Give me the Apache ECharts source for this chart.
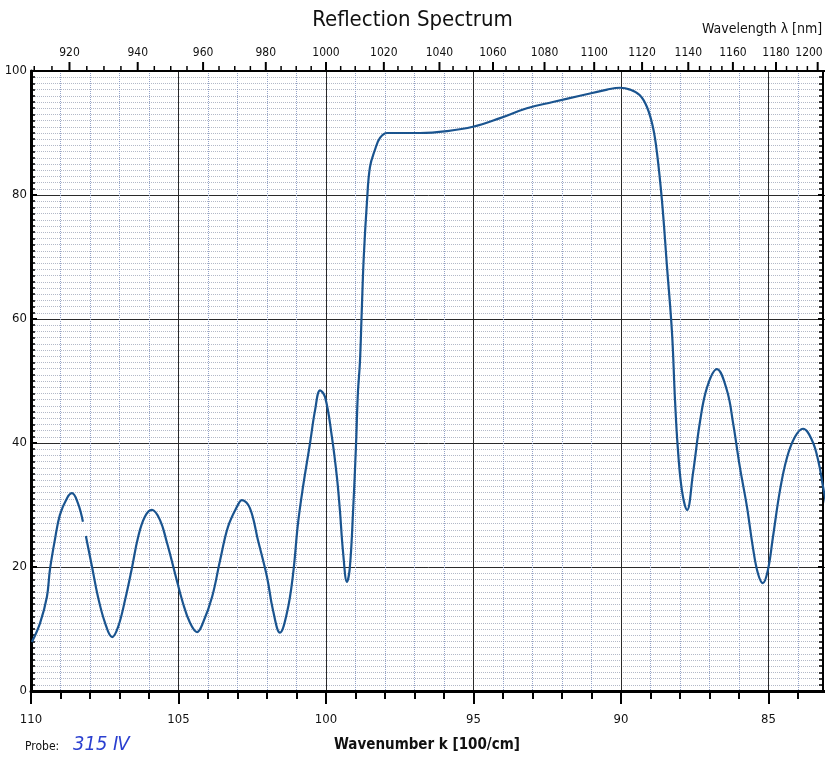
<!DOCTYPE html>
<html>
<head>
<meta charset="utf-8">
<script src="https://cdn.jsdelivr.net/npm/echarts@6/dist/echarts.min.js"></script>
<style>
  html, body { margin: 0; padding: 0; background: #fff; }
  #main { width: 825px; height: 760px; }
</style>
</head>
<body>
<div id="main"></div>
<script>
// wavenumber k [100/cm] and reflectivity [%]
var waveK = [109.97, 109.69, 109.46, 109.36, 109.19, 109.02, 108.78, 108.61, 108.41, 108.24,
  108.19, 108.14, 107.93, 107.73, 107.49, 107.25, 107.05, 106.81, 106.58, 106.37,
  106.14, 105.90, 105.63, 105.39, 105.12, 104.85, 104.61, 104.37, 104.17, 103.86,
  103.59, 103.32, 103.02, 102.85, 102.58, 102.31, 102.00, 101.80, 101.56, 101.32,
  101.12, 100.95, 100.78, 100.54, 100.37, 100.20, 100.03, 99.80, 99.63, 99.53,
  99.42, 99.29, 99.19, 99.08, 98.98, 98.92, 98.85, 98.79, 98.72, 98.61,
  98.51, 98.34, 98.17, 97.93, 97.49, 96.81, 95.90, 95.02, 94.10, 93.19,
  92.31, 91.39, 90.47, 90.03, 89.69, 89.36, 89.12, 88.92, 88.78, 88.61,
  88.44, 88.27, 88.17, 88.07, 87.93, 87.76, 87.56, 87.32, 87.08, 86.75,
  86.41, 86.20, 85.97, 85.73, 85.53, 85.36, 85.19, 85.02, 84.85, 84.61,
  84.37, 84.10, 83.83, 83.53, 83.32, 83.15, 83.00];
var reflect = [7.9, 11.0, 15.2, 19.5, 24.4, 28.4, 31.1, 31.9, 30.3, 27.3,
  null, 25.0, 20.0, 15.2, 11.0, 8.7, 10.3, 14.7, 19.8, 24.8,
  28.1, 29.2, 27.6, 23.9, 19.0, 14.2, 11.0, 9.5, 11.0, 15.2,
  21.1, 26.5, 29.7, 30.8, 29.5, 24.4, 18.4, 13.1, 9.4, 12.7,
  18.7, 27.0, 32.9, 40.0, 45.3, 48.5, 47.4, 41.0, 34.5, 29.2,
  22.3, 17.6, 20.0, 29.2, 40.0, 48.0, 53.0, 61.0, 70.0, 79.0,
  84.5, 87.3, 89.2, 90.0, 90.0, 90.0, 90.3, 91.0, 92.4, 94.0,
  95.0, 96.0, 97.0, 97.3, 97.0, 96.1, 94.2, 91.0, 86.8, 79.0,
  68.4, 57.7, 47.0, 38.9, 32.2, 29.2, 35.1, 43.5, 49.0, 51.9,
  48.5, 43.2, 36.1, 29.7, 23.2, 19.0, 17.4, 19.5, 24.8, 32.4,
  37.7, 41.0, 42.3, 40.5, 37.3, 32.9, 29.0];

// top axis: wavelength labels [nm]
var wlLabels = [920, 940, 960, 980, 1000, 1020, 1040, 1060, 1080, 1100, 1120, 1140, 1160, 1180, 1200];
var wlFirst = 910, wlLast = 1200, wlStep = 5;

var F = "'DejaVu Sans Condensed', 'Liberation Sans Narrow', 'DejaVu Sans', sans-serif";

var lineData = waveK.map(function (k, i) {
  return [k, reflect[i] === null ? '-' : reflect[i]];
});

// lambda[nm] = 1e5 / k[100/cm]
var wlTicks = [];
for (var w = wlFirst; w <= wlLast; w += wlStep) {
  wlTicks.push([1e5 / w, w, wlLabels.indexOf(w) >= 0 ? 1 : 0]);
}

var chartDom = document.getElementById('main');
var myChart = echarts.init(chartDom);
var option;

option = {
  backgroundColor: '#fff',
  animation: false,
  title: {
    text: 'Reflection Spectrum',
    left: 'center',
    top: 4,
    textStyle: { fontSize: 22, fontWeight: 'normal', color: '#111', fontFamily: F }
  },
  grid: { left: 31, right: -91, top: 71, bottom: 69, outerBoundsMode: 'none', containLabel: false },
  xAxis: [
    {
      type: 'value',
      position: 'bottom',
      min: 80,
      max: 110,
      interval: 5,
      inverse: true,
      axisLine: { show: true, onZero: false, lineStyle: { color: '#000', width: 3 } },
      axisTick: { show: true, length: 13, lineStyle: { color: '#000', width: 2 } },
      minorTick: { show: true, splitNumber: 5, length: 8, lineStyle: { color: '#000', width: 2 } },
      axisLabel: { margin: 22, fontSize: 13, color: '#111', fontFamily: F },
      splitLine: { show: true, lineStyle: { color: '#2a2a2a', width: 1 } },
      minorSplitLine: { show: true, lineStyle: { color: '#93a2c8', type: 'dotted', width: 1 } }
    },
    {
      type: 'value',
      position: 'top',
      min: 80,
      max: 110,
      inverse: true,
      axisLine: { show: true, onZero: false, lineStyle: { color: '#000', width: 2 } },
      axisTick: { show: false },
      axisLabel: { show: false },
      splitLine: { show: false }
    }
  ],
  yAxis: [
    {
      type: 'value',
      min: 0,
      max: 100,
      interval: 20,
      axisLine: { show: true, lineStyle: { color: '#000', width: 3 } },
      axisTick: { show: true, inside: true, length: 6, lineStyle: { color: '#000', width: 2 } },
      minorTick: { show: true, splitNumber: 20, length: 4, lineStyle: { color: '#000', width: 1.5 } },
      axisLabel: { margin: 4, fontSize: 13, color: '#111', fontFamily: F },
      splitLine: { show: true, lineStyle: { color: '#2a2a2a', width: 1 } },
      minorSplitLine: { show: true, lineStyle: { color: '#b3b9c8', type: 'dotted', width: 1 } },
      name: 'Reflectivity',
      nameLocation: 'middle',
      nameGap: 14,
      nameTextStyle: { fontSize: 15, fontWeight: 'bold', color: '#111', fontFamily: F, padding: [0, 0, 0, 30] }
    },
    {
      type: 'value',
      position: 'right',
      offset: -93,
      min: 0,
      max: 100,
      interval: 20,
      axisLine: { show: true, lineStyle: { color: '#000', width: 2 } },
      axisTick: { show: true, inside: true, length: 5, lineStyle: { color: '#000', width: 2 } },
      minorTick: { show: true, splitNumber: 20, length: 4, lineStyle: { color: '#000', width: 1.5 } },
      axisLabel: { show: false },
      splitLine: { show: false }
    }
  ],
  graphic: [
    {
      type: 'text', left: 702, top: 22,
      style: { text: 'Wavelength λ [nm]', fontSize: 14, fill: '#111', fontFamily: F }
    },
    {
      type: 'text', left: 334, top: 738,
      style: { text: 'Wavenumber k [100/cm]', fontSize: 15, fontWeight: 'bold', fill: '#111', fontFamily: F }
    },
    {
      type: 'text', left: 25, top: 741,
      style: { text: 'Probe:', fontSize: 12, fill: '#111', fontFamily: F }
    },
    {
      type: 'text', left: 73, top: 735,
      style: { text: '315 Ⅳ', fontSize: 20, fontStyle: 'italic', fill: '#2a3fd0', fontFamily: F }
    }
  ],
  series: [
    {
      name: 'Reflectivity',
      type: 'line',
      xAxisIndex: 0,
      yAxisIndex: 0,
      data: lineData,
      smooth: 0.4,
      connectNulls: false,
      showSymbol: false,
      lineStyle: { color: '#1a548f', width: 2.2 },
      z: 5
    },
    {
      name: 'Wavelength',
      type: 'custom',
      xAxisIndex: 1,
      yAxisIndex: 0,
      clip: false,
      silent: true,
      data: wlTicks,
      renderItem: function (params, api) {
        var p = api.coord([api.value(0), 100]);
        var major = api.value(2) === 1;
        var len = major ? 9 : 5;
        var children = [{
          type: 'line',
          shape: { x1: p[0], y1: p[1], x2: p[0], y2: p[1] - len },
          style: { stroke: '#000', lineWidth: major ? 2 : 1.5 }
        }];
        if (major) {
          // keep the last label inside the canvas
          var lx = Math.min(p[0], api.getWidth() - 16);
          children.push({
            type: 'text',
            style: {
              text: String(api.value(1)), x: lx, y: p[1] - 12,
              align: 'center', verticalAlign: 'bottom',
              fontSize: 12, fill: '#111', fontFamily: F
            }
          });
        }
        return { type: 'group', children: children };
      }
    }
  ]
};

option && myChart.setOption(option);
</script>
</body>
</html>
